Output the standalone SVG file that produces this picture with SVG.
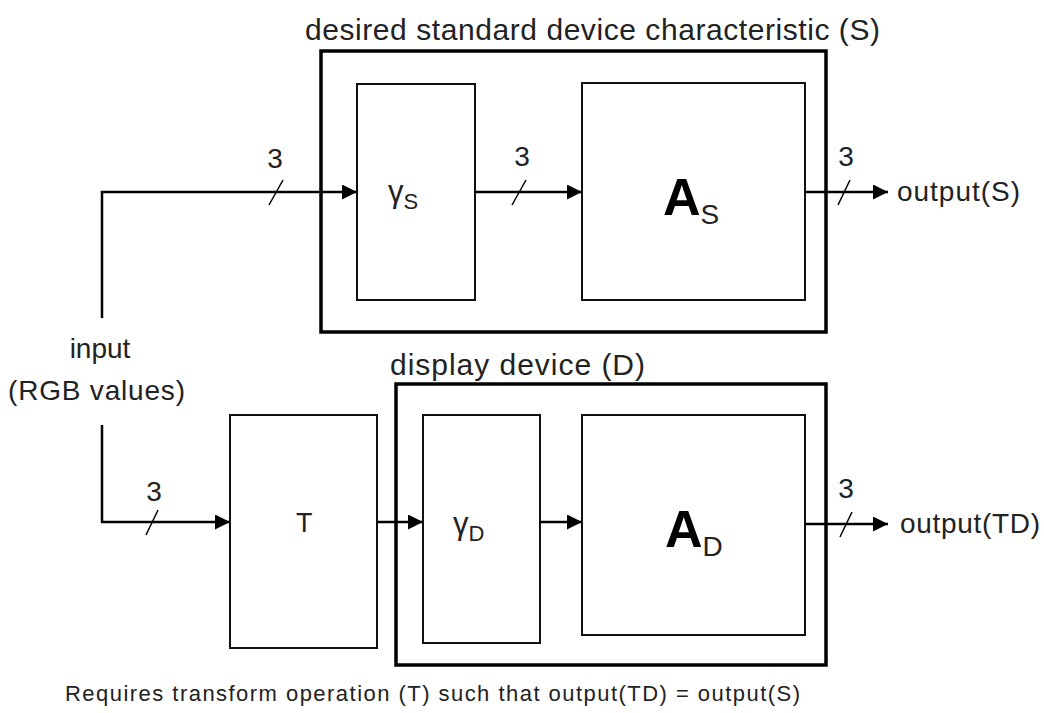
<svg xmlns="http://www.w3.org/2000/svg" width="1044" height="713" viewBox="0 0 1044 713">
<defs>
<marker id="ah" viewBox="0 0 10 10" refX="10" refY="5" markerWidth="20" markerHeight="15" markerUnits="userSpaceOnUse" orient="auto"><path d="M0,0 L10,5 L0,10 Z" fill="#000"/></marker>
</defs>
<style>
.t{font-family:"Liberation Sans",Arial,sans-serif;fill:#222}
.outer{fill:none;stroke:#000;stroke-width:3.5}
.inner{fill:#fff;stroke:#111;stroke-width:2}
.ln{fill:none;stroke:#000;stroke-width:2.5}
.tick{stroke:#000;stroke-width:1.5}
</style>
<rect width="1044" height="713" fill="#fff"/>
<g id="std-box">
<rect class="outer" x="321" y="51" width="505" height="281"/>
<text class="t" x="305" y="40" font-size="30" textLength="575">desired standard device characteristic (S)</text>
</g>
<g id="disp-box">
<rect class="outer" x="396" y="384" width="430" height="281"/>
<text class="t" x="390" y="375" font-size="30" textLength="255">display device (D)</text>
</g>
<g id="gammaS">
<rect class="inner" x="357" y="84" width="118" height="216"/>
<text class="t" x="388" y="202" font-size="31">γ<tspan font-size="22" dy="7">S</tspan></text>
</g>
<g id="AS">
<rect class="inner" x="582" y="83" width="223" height="217"/>
<text class="t" x="663" y="215" font-size="52" font-weight="bold" style="fill:#000">A<tspan font-size="28" font-weight="normal" dy="9" style="fill:#222">S</tspan></text>
</g>
<g id="T">
<rect class="inner" x="230" y="415" width="147" height="233"/>
<text class="t" x="296" y="532" font-size="27">T</text>
</g>
<g id="gammaD">
<rect class="inner" x="423" y="415" width="117" height="228"/>
<text class="t" x="453" y="534" font-size="31">γ<tspan font-size="22" dy="7">D</tspan></text>
</g>
<g id="AD">
<rect class="inner" x="582" y="415" width="223" height="220"/>
<text class="t" x="665" y="547" font-size="52" font-weight="bold" style="fill:#000">A<tspan font-size="28" font-weight="normal" dy="9" style="fill:#222">D</tspan></text>
</g>
<g id="input">
<text class="t" x="100" y="358" font-size="28" text-anchor="middle">input</text>
<text class="t" x="8" y="400" font-size="28" textLength="177">(RGB values)</text>
</g>
<g id="outputs">
<text class="t" x="897" y="201" font-size="28" textLength="123">output(S)</text>
<text class="t" x="900" y="533" font-size="28" textLength="140">output(TD)</text>
</g>
<g id="connectors">
<polyline class="ln" points="102,318 102,192 357,192" marker-end="url(#ah)"/>
<polyline class="ln" points="102,425 102,522 230,522" marker-end="url(#ah)"/>
<line class="ln" x1="475" y1="192" x2="582" y2="192" marker-end="url(#ah)"/>
<line class="ln" x1="805" y1="192" x2="888" y2="192" marker-end="url(#ah)"/>
<line class="ln" x1="377" y1="522" x2="423" y2="522" marker-end="url(#ah)"/>
<line class="ln" x1="540" y1="522" x2="582" y2="522" marker-end="url(#ah)"/>
<line class="ln" x1="805" y1="524" x2="888" y2="524" marker-end="url(#ah)"/>
<line class="tick" x1="269" y1="205" x2="283" y2="180"/>
<line class="tick" x1="512" y1="205" x2="526" y2="180"/>
<line class="tick" x1="838" y1="205" x2="850" y2="180"/>
<line class="tick" x1="146" y1="535" x2="158" y2="510"/>
<line class="tick" x1="840" y1="537" x2="852" y2="512"/>
</g>
<g id="labels">
<text class="t" x="275" y="168" font-size="28" text-anchor="middle">3</text>
<text class="t" x="522" y="166" font-size="28" text-anchor="middle">3</text>
<text class="t" x="846" y="166" font-size="28" text-anchor="middle">3</text>
<text class="t" x="154" y="501" font-size="28" text-anchor="middle">3</text>
<text class="t" x="846" y="498" font-size="28" text-anchor="middle">3</text>
<text class="t" x="65" y="701" font-size="22" textLength="735">Requires transform operation (T) such that output(TD) = output(S)</text>
</g>
</svg>
